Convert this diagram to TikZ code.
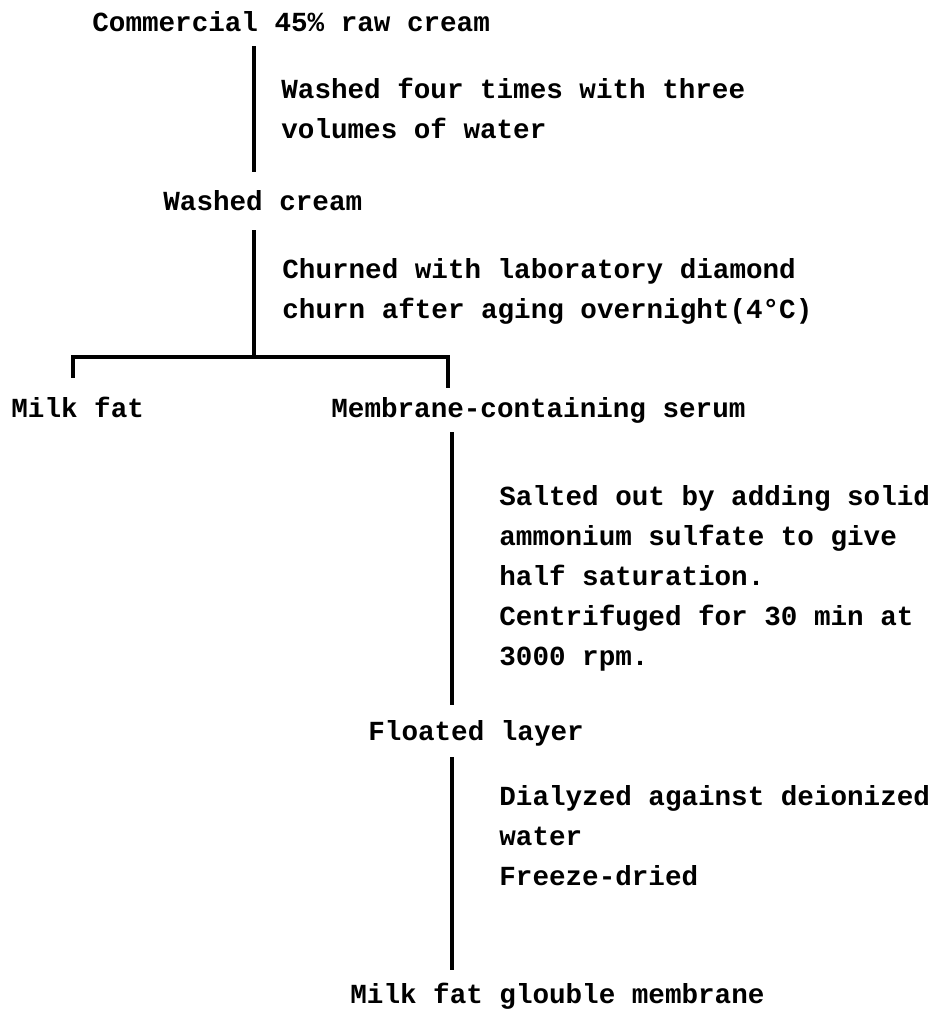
\documentclass[tikz,border=0pt]{standalone}
\usepackage{fontspec}
\setmonofont{Liberation Mono}
\usetikzlibrary{positioning}

\begin{document}
\begin{tikzpicture}[x=0.5pt,y=-0.5pt,
                    every node/.style={font=\ttfamily\bfseries\fontsize{13.8}{20}\selectfont,
                                       inner sep=0pt},
                    stage/.style={anchor=base west, text height=10pt, text depth=3pt},
                    treat/.style={anchor=base west, align=left},
                    flow/.style={line width=2pt}]
  \useasboundingbox (0,0) rectangle (940,1013);

  % columns of the vertical lines
  \coordinate (trunk) at (254,0);
  \coordinate (leftcol) at (73,0);
  \coordinate (rightcol) at (448,0);
  \coordinate (stem) at (452,0);
  \coordinate (fork) at (254,357);

  \node[stage] (cream) at (92,31) {Commercial 45\% raw cream};
  \node[stage] (washed) at (163,210) {Washed cream};
  \node[stage] (fat) at (11,417) {Milk fat};
  \node[stage] (serum) at (331,417) {Membrane-containing serum};
  \node[stage] (floated) at (368,740) {Floated layer};
  \node[stage] (mfgm) at (350,1003) {Milk fat glouble membrane};

  % treatment texts sit on the baseline of their last line
  \node[treat] (wash) at (281,138) {Washed four times with three\\volumes of water};
  \node[treat] (churn) at (282,318) {Churned with laboratory diamond\\churn after aging overnight(4°C)};
  \node[treat] (salt) at (499,665) {Salted out by adding solid\\ammonium sulfate to give\\half saturation.\\Centrifuged for 30 min at\\3000 rpm.};
  \node[treat] (dialyze) at (499,885) {Dialyzed against deionized\\water\\Freeze-dried};

  \draw[flow, shorten <=4.5pt, shorten >=9pt] (cream.south -| trunk) -- (washed.north -| trunk);
  \draw[flow, shorten <=7pt] (washed.south -| trunk) -- (fork);
  \draw[flow, shorten <=9.5pt, shorten >=4.5pt] (fat.north -| leftcol) |- (fork) -| (serum.north -| rightcol);
  \draw[flow, shorten <=4.5pt, shorten >=7.5pt] (serum.south -| stem) -- (floated.north -| stem);
  \draw[flow, shorten <=5.5pt, shorten >=6.5pt] (floated.south -| stem) -- (mfgm.north -| stem);
\end{tikzpicture}
\end{document}
